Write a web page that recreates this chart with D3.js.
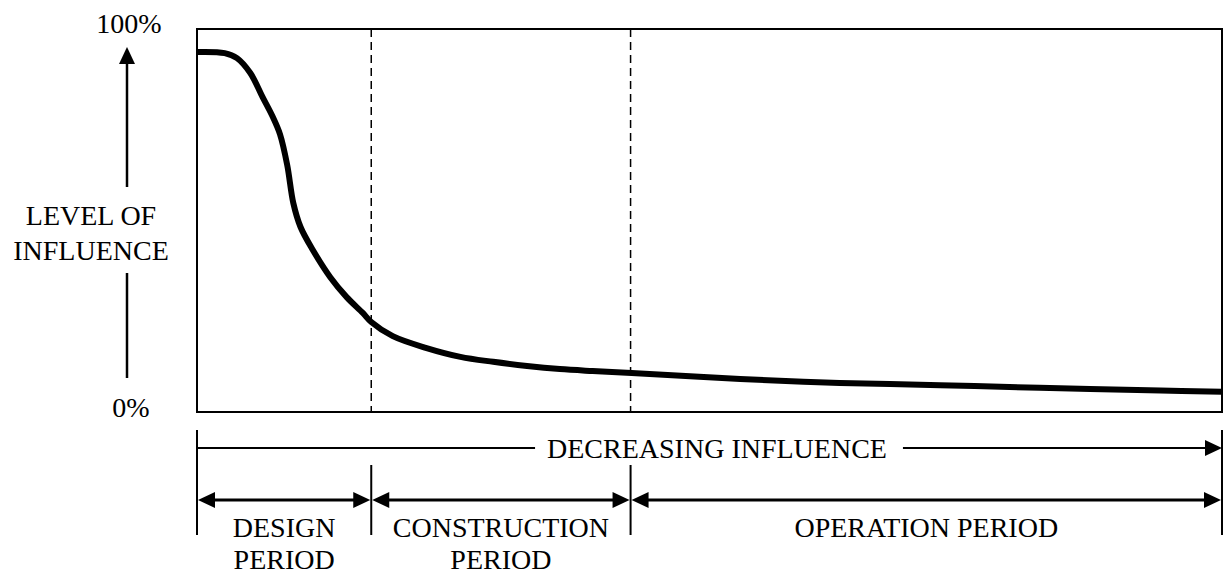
<!DOCTYPE html>
<html>
<head>
<meta charset="utf-8">
<script src="https://cdn.jsdelivr.net/npm/d3@7"></script>
<style>
  body { margin: 0; background: #fff; }
  svg { display: block; }
  text { font-family: "Liberation Serif", "Times New Roman", serif; font-size: 28px; fill: #000; }
</style>
</head>
<body>
<svg id="chart" width="1225" height="575"></svg>
<script>
// time runs 0..100 along the project life, influence is 0..100 %
const curveT = [0, 2.7, 3.9, 5.2, 6.4, 7.4, 8.1, 8.8, 9.4, 10.1, 11.3, 13.0, 14.6, 16.2, 17.0, 19.1, 22.4, 25.7, 28.9, 32.2, 35.4, 38.6, 42.4, 53.0, 62.7, 72.5, 82.2, 94.0, 100];
const curveV = [94.0, 93.7, 92.4, 88.5, 82.2, 77.0, 72.5, 64.5, 54.5, 48.3, 42.3, 35.2, 30.0, 25.8, 23.5, 19.8, 16.7, 14.4, 13.1, 12.0, 11.2, 10.7, 10.2, 8.6, 7.6, 7.0, 6.3, 5.6, 5.3];

const periodNames = [["DESIGN", "PERIOD"], ["CONSTRUCTION", "PERIOD"], ["OPERATION PERIOD"]];
const periodBounds = [0, 17, 42.3, 100];
const yLabels = ["100%", "0%"];
const yTitle = ["LEVEL OF", "INFLUENCE"];
const trendLabel = "DECREASING INFLUENCE";

const svg = d3.select("#chart");

const x = d3.scaleLinear().domain([0, 100]).range([197, 1222]);
const y = d3.scaleLinear().domain([0, 100]).range([412, 29]);

// arrowhead triangle pointing in direction dir ("left","right","up")
function arrowHead(tx, ty, dir) {
  const L = 17, W = 8;
  let pts;
  if (dir === "right") pts = [[tx, ty], [tx - L, ty - W], [tx - L, ty + W]];
  else if (dir === "left") pts = [[tx, ty], [tx + L, ty - W], [tx + L, ty + W]];
  else pts = [[tx, ty], [tx - W, ty + L], [tx + W, ty + L]];
  svg.append("path")
    .attr("d", "M" + pts.join("L") + "Z")
    .attr("fill", "#000");
}

function line(x1, y1, x2, y2, w) {
  svg.append("line")
    .attr("x1", x1).attr("y1", y1).attr("x2", x2).attr("y2", y2)
    .attr("stroke", "#000").attr("stroke-width", w || 2);
}

// plot frame
svg.append("rect")
  .attr("x", x(0)).attr("y", y(100))
  .attr("width", x(100) - x(0)).attr("height", y(0) - y(100))
  .attr("fill", "none").attr("stroke", "#000").attr("stroke-width", 2);

// dashed period boundaries
periodBounds.slice(1, -1).forEach(b => {
  svg.append("line")
    .attr("x1", x(b)).attr("x2", x(b))
    .attr("y1", y(100)).attr("y2", y(0))
    .attr("stroke", "#000").attr("stroke-width", 1.5)
    .attr("stroke-dasharray", "8,5");
});

// influence curve
const pts = curveT.map((t, i) => [t, curveV[i]]);
svg.append("path")
  .datum(pts)
  .attr("fill", "none")
  .attr("stroke", "#000")
  .attr("stroke-width", 6)
  .attr("d", d3.line().x(d => x(d[0])).y(d => y(d[1])).curve(d3.curveCatmullRom.alpha(0.5)));

// y axis labels and arrow
const yMid = 127;
svg.append("text").attr("x", 129).attr("y", 33).attr("text-anchor", "middle").text(yLabels[0]);
svg.append("text").attr("x", 131).attr("y", 417).attr("text-anchor", "middle").text(yLabels[1]);
svg.append("text").attr("x", 91).attr("y", 225).attr("text-anchor", "middle").text(yTitle[0]);
svg.append("text").attr("x", 91).attr("y", 260).attr("text-anchor", "middle").text(yTitle[1]);
line(yMid, 60, yMid, 187, 2.5);
arrowHead(yMid, 47, "up");
line(yMid, 273, yMid, 378, 2.5);

// decreasing influence arrow
const trendY = 448;
const trendText = svg.append("text")
  .attr("x", 717).attr("y", 458).attr("text-anchor", "middle").text(trendLabel);
const tb = trendText.node().getBBox();
line(x(0), trendY, tb.x - 12, trendY, 2);
line(tb.x + tb.width + 16, trendY, x(100) - 10, trendY, 2);
arrowHead(x(100), trendY, "right");

// ticks
line(x(0), 430, x(0), 535, 2);
line(x(100), 430, x(100), 535, 2);
periodBounds.slice(1, -1).forEach(b => line(x(b), 465, x(b), 535, 2));

// period arrows and labels
const arrowY = 500;
periodNames.forEach((name, i) => {
  const a = x(periodBounds[i]), b = x(periodBounds[i + 1]);
  line(a + 10, arrowY, b - 10, arrowY, 3);
  arrowHead(a + 1, arrowY, "left");
  arrowHead(b - 1, arrowY, "right");
  name.forEach((s, j) => {
    svg.append("text")
      .attr("x", (a + b) / 2).attr("y", 537 + j * 32)
      .attr("text-anchor", "middle").text(s);
  });
});
</script>
</body>
</html>
